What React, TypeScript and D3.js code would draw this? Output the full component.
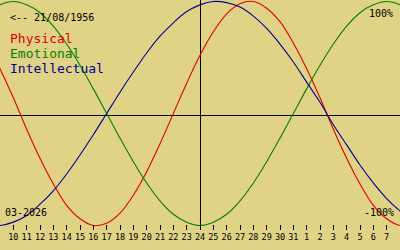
import React from "react";
import * as d3 from "d3";

// Day offsets relative to 24 March 2026 (centre line)
const dayOffsets = [-16,-15,-14,-13,-12,-11,-10,-9,-8,-7,-6,-5,-4,-3,-2,-1,0,1,2,3,4,5,6,7,8,9,10,11,12,13,14,15,16];
const dayLabels = ["8","9","10","11","12","13","14","15","16","17","18","19","20","21","22","23","24","25","26","27","28","29","30","31","1","2","3","4","5","6","7","8","9"];

const physical = [0.63,0.40,0.14,-0.14,-0.40,-0.63,-0.82,-0.94,-1.00,-0.98,-0.89,-0.73,-0.52,-0.27,0,0.27,0.52,0.73,0.89,0.98,1.00,0.94,0.82,0.63,0.40,0.14,-0.14,-0.40,-0.63,-0.82,-0.94,-1.00,-0.98];
const emotional = [0.90,0.97,1.00,0.97,0.90,0.78,0.62,0.43,0.22,0,-0.22,-0.43,-0.62,-0.78,-0.90,-0.97,-1.00,-0.97,-0.90,-0.78,-0.62,-0.43,-0.22,0,0.22,0.43,0.62,0.78,0.90,0.97,1.00,0.97,0.90];
const intellectual = [-0.99,-1.00,-0.97,-0.91,-0.81,-0.69,-0.54,-0.37,-0.19,0,0.19,0.37,0.54,0.69,0.81,0.91,0.97,1.00,0.99,0.95,0.87,0.76,0.62,0.46,0.28,0.10,-0.10,-0.28,-0.46,-0.62,-0.76,-0.87,-0.95];

const seriesNames = ["Physical", "Emotional", "Intellectual"];
const seriesColors = ["#e00000", "#008000", "#000090"];
const tickOffsetMin = -14;
const tickOffsetMax = 14;
const birthLabel = "<-- 21/08/1956";
const monthLabel = "03-2026";
const topLabel = "100%";
const bottomLabel = "-100%";

const W = 400;
const H = 250;
const FONT = "'DejaVu Sans Mono', 'Liberation Mono', monospace";

export default function App() {
  const x = d3.scaleLinear().domain([-15, 15]).range([0, 400]);
  const y = d3.scaleLinear().domain([-1, 1]).range([225.5, 1.5]);
  const line = d3
    .line<number>()
    .x((_, i) => x(dayOffsets[i]))
    .y((v) => y(v))
    .curve(d3.curveCatmullRom);
  const series = [physical, emotional, intellectual];
  const ticks = dayOffsets
    .map((d, i) => ({ d, label: dayLabels[i] }))
    .filter((t) => t.d >= tickOffsetMin && t.d <= tickOffsetMax);
  const cx = Math.floor(x(0)) + 0.5;

  return (
    <svg
      width={W}
      height={H}
      style={{ position: "absolute", left: 0, top: 0, display: "block" }}
      fontFamily={FONT}
    >
      <rect x={0} y={0} width={W} height={H} fill="#e0d386" />
      <defs>
        <clipPath id="plot">
          <rect x={0} y={0} width={W} height={227} />
        </clipPath>
      </defs>
      {/* axes */}
      <line x1={0} x2={W} y1={115.5} y2={115.5} stroke="#000" strokeWidth={1} shapeRendering="crispEdges" />
      <line x1={cx} x2={cx} y1={0} y2={226} stroke="#000" strokeWidth={1} shapeRendering="crispEdges" />
      {/* curves */}
      <g clipPath="url(#plot)">
        {series.map((s, k) => (
          <path key={k} d={line(s) || ""} fill="none" stroke={seriesColors[k]} strokeWidth={1.1} />
        ))}
      </g>
      {/* ticks */}
      {ticks.map((t) => {
        const tx = Math.floor(x(t.d)) + 0.5;
        return (
          <g key={t.d}>
            <line x1={tx} x2={tx} y1={225} y2={230} stroke="#000" strokeWidth={1} shapeRendering="crispEdges" />
            <text x={x(t.d)} y={240} fontSize={8.5} textAnchor="middle" fill="#000">
              {t.label}
            </text>
          </g>
        );
      })}
      {/* texts */}
      <text x={10} y={20.5} fontSize={10} fill="#000">{birthLabel}</text>
      {seriesNames.map((n, k) => (
        <text key={n} x={10} y={42.5 + k * 15} fontSize={13} fill={seriesColors[k]}>
          {n}
        </text>
      ))}
      <text x={393} y={16.5} fontSize={10} textAnchor="end" fill="#000">{topLabel}</text>
      <text x={394} y={216} fontSize={10} textAnchor="end" fill="#000">{bottomLabel}</text>
      <text x={5} y={216} fontSize={10} fill="#000">{monthLabel}</text>
    </svg>
  );
}
